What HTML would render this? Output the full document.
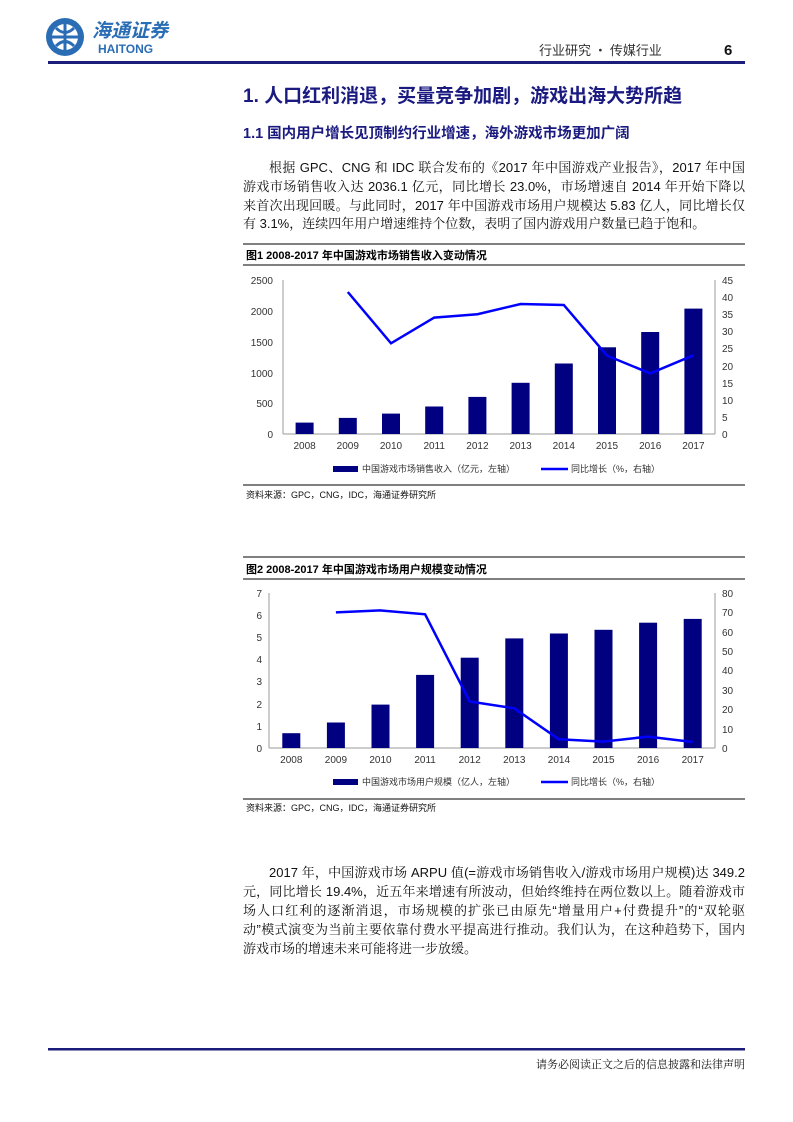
<!DOCTYPE html>
<html><head><meta charset="utf-8"><style>
body{margin:0;background:#fff;}
.pg{position:relative;width:793px;height:1122px;overflow:hidden;font-family:"Liberation Sans","Noto Sans CJK SC",sans-serif;}
.a{position:absolute;white-space:nowrap;}
.ln{position:absolute;left:243px;width:502px;font-size:13px;color:#111;text-align:justify;text-align-last:justify;height:19px;line-height:19px;font-family:"Liberation Sans","Noto Serif CJK SC",serif;}
</style></head><body><div class="pg">
<svg class="a" style="left:0;top:0" width="793" height="1122">
<!-- logo -->
<circle cx="65" cy="37" r="19" fill="#2a6db5"/>
<circle cx="65" cy="37" r="13" fill="#fff"/>
<path d="M65 24 V50 M52 37 H78 M56 28 Q65 37 74 28 M56 46 Q65 37 74 46" stroke="#2a6db5" stroke-width="3" fill="none"/>
<text x="92" y="37" font-size="19" font-weight="bold" fill="#2a6db5" font-family="Noto Sans CJK SC,sans-serif" font-style="italic">海通证券</text>
<text x="98" y="53" font-size="12" font-weight="bold" fill="#2a6db5" font-family="Liberation Sans,sans-serif">HAITONG</text>
<text x="539" y="55" font-size="13" fill="#333" font-family="Noto Sans CJK SC,sans-serif">行业研究 · 传媒行业</text>
<text x="724" y="55" font-size="15" font-weight="bold" fill="#111" font-family="Liberation Sans,sans-serif">6</text>
<rect x="48" y="61" width="697" height="3" fill="#1c1c7a"/>
<rect x="48" y="1048" width="697" height="2.5" fill="#1c1c7a"/>
<text x="745" y="1068" font-size="11" fill="#111" text-anchor="end" font-family="Noto Serif CJK SC,serif">请务必阅读正文之后的信息披露和法律声明</text>

<!-- chart1 frame -->
<g font-family="Liberation Sans,Noto Sans CJK SC,sans-serif">
<line x1="243" y1="244" x2="745" y2="244" stroke="#000" stroke-width="1"/>
<line x1="243" y1="265" x2="745" y2="265" stroke="#000" stroke-width="1"/>
<line x1="243" y1="485" x2="745" y2="485" stroke="#000" stroke-width="1"/>
<text x="246" y="259" font-size="11" font-weight="bold">图1  2008-2017 年中国游戏市场销售收入变动情况</text>
<g stroke="#999" stroke-width="1">
<line x1="283" y1="280" x2="283" y2="434"/><line x1="715" y1="280" x2="715" y2="434"/><line x1="283" y1="434" x2="715" y2="434"/>
</g>
<g fill="#000080">
<rect x="295.6" y="422.6" width="18" height="11.4"/><rect x="338.8" y="417.9" width="18" height="16.1"/>
<rect x="382" y="413.6" width="18" height="20.4"/><rect x="425.2" y="406.5" width="18" height="27.5"/>
<rect x="468.4" y="396.9" width="18" height="37.1"/><rect x="511.6" y="382.8" width="18" height="51.2"/>
<rect x="554.8" y="363.5" width="18" height="70.5"/><rect x="598" y="347.3" width="18" height="86.7"/>
<rect x="641.2" y="332" width="18" height="102"/><rect x="684.4" y="308.6" width="18" height="125.4"/>
</g>
<polyline points="347.8,292 391,343.3 434.2,317.6 477.4,314.2 520.6,304 563.8,305 607,355.6 650.2,373.4 693.4,355.3" fill="none" stroke="#0000ff" stroke-width="2.5"/>
<g font-size="10" fill="#333" text-anchor="end">
<text x="273" y="284">2500</text><text x="273" y="315">2000</text><text x="273" y="346">1500</text><text x="273" y="377">1000</text><text x="273" y="407">500</text><text x="273" y="438">0</text>
</g>
<g font-size="10" fill="#333">
<text x="722" y="284">45</text><text x="722" y="301">40</text><text x="722" y="318">35</text><text x="722" y="335">30</text><text x="722" y="352">25</text><text x="722" y="370">20</text><text x="722" y="387">15</text><text x="722" y="404">10</text><text x="722" y="421">5</text><text x="722" y="438">0</text>
</g>
<g font-size="10" fill="#333" text-anchor="middle">
<text x="304.6" y="449">2008</text><text x="347.8" y="449">2009</text><text x="391" y="449">2010</text><text x="434.2" y="449">2011</text><text x="477.4" y="449">2012</text><text x="520.6" y="449">2013</text><text x="563.8" y="449">2014</text><text x="607" y="449">2015</text><text x="650.2" y="449">2016</text><text x="693.4" y="449">2017</text>
</g>
<rect x="333" y="466" width="25" height="6" fill="#000080"/>
<text x="362" y="472" font-size="9" fill="#333">中国游戏市场销售收入（亿元，左轴）</text>
<line x1="541" y1="469" x2="568" y2="469" stroke="#0000ff" stroke-width="2.5"/>
<text x="571" y="472" font-size="9" fill="#333">同比增长（%，右轴）</text>
<text x="246" y="498" font-size="9" fill="#111">资料来源：GPC，CNG，IDC，海通证券研究所</text>

<!-- chart2 -->
<line x1="243" y1="557" x2="745" y2="557" stroke="#000"/>
<line x1="243" y1="579" x2="745" y2="579" stroke="#000"/>
<line x1="243" y1="799" x2="745" y2="799" stroke="#000"/>
<text x="246" y="573" font-size="11" font-weight="bold">图2  2008-2017 年中国游戏市场用户规模变动情况</text>
<g stroke="#999" stroke-width="1">
<line x1="269" y1="593" x2="269" y2="748"/><line x1="715" y1="593" x2="715" y2="748"/><line x1="269" y1="748" x2="715" y2="748"/>
</g>
<g fill="#000080">
<rect x="282.3" y="733.2" width="18" height="14.8"/><rect x="326.9" y="722.5" width="18" height="25.5"/>
<rect x="371.5" y="704.6" width="18" height="43.4"/><rect x="416.1" y="674.9" width="18" height="73.1"/>
<rect x="460.7" y="657.7" width="18" height="90.3"/><rect x="505.3" y="638.4" width="18" height="109.6"/>
<rect x="549.9" y="633.5" width="18" height="114.5"/><rect x="594.5" y="629.8" width="18" height="118.2"/>
<rect x="639.1" y="622.7" width="18" height="125.3"/><rect x="683.7" y="618.9" width="18" height="129.1"/>
</g>
<polyline points="335.9,612.4 380.5,610.4 425.1,614.3 469.7,701.5 514.3,708.3 558.9,739.3 603.5,741.6 648.1,736.6 692.7,742" fill="none" stroke="#0000ff" stroke-width="2.5"/>
<g font-size="10" fill="#333" text-anchor="end">
<text x="262" y="597">7</text><text x="262" y="619">6</text><text x="262" y="641">5</text><text x="262" y="663">4</text><text x="262" y="685">3</text><text x="262" y="708">2</text><text x="262" y="730">1</text><text x="262" y="752">0</text>
</g>
<g font-size="10" fill="#333">
<text x="722" y="597">80</text><text x="722" y="616">70</text><text x="722" y="636">60</text><text x="722" y="655">50</text><text x="722" y="674">40</text><text x="722" y="694">30</text><text x="722" y="713">20</text><text x="722" y="733">10</text><text x="722" y="752">0</text>
</g>
<g font-size="10" fill="#333" text-anchor="middle">
<text x="291.3" y="763">2008</text><text x="335.9" y="763">2009</text><text x="380.5" y="763">2010</text><text x="425.1" y="763">2011</text><text x="469.7" y="763">2012</text><text x="514.3" y="763">2013</text><text x="558.9" y="763">2014</text><text x="603.5" y="763">2015</text><text x="648.1" y="763">2016</text><text x="692.7" y="763">2017</text>
</g>
<rect x="333" y="779" width="25" height="6" fill="#000080"/>
<text x="362" y="785" font-size="9" fill="#333">中国游戏市场用户规模（亿人，左轴）</text>
<line x1="541" y1="782" x2="568" y2="782" stroke="#0000ff" stroke-width="2.5"/>
<text x="571" y="785" font-size="9" fill="#333">同比增长（%，右轴）</text>
<text x="246" y="811" font-size="9" fill="#111">资料来源：GPC，CNG，IDC，海通证券研究所</text>
</g>
</svg>

<div class="a" style="left:243px;top:81px;font-size:19px;font-weight:bold;color:#1a1a80;">1. 人口红利消退，买量竞争加剧，游戏出海大势所趋</div>
<div class="a" style="left:243px;top:122px;font-size:14.5px;font-weight:bold;color:#1a1a80;">1.1 国内用户增长见顶制约行业增速，海外游戏市场更加广阔</div>

<div class="ln" style="top:158px;padding-left:26px;width:476px">根据 GPC、CNG 和 IDC 联合发布的《2017 年中国游戏产业报告》，2017 年中国</div>
<div class="ln" style="top:177px">游戏市场销售收入达 2036.1 亿元，同比增长 23.0%，市场增速自 2014 年开始下降以</div>
<div class="ln" style="top:196px">来首次出现回暖。与此同时，2017 年中国游戏市场用户规模达 5.83 亿人，同比增长仅</div>
<div class="ln" style="top:214px;text-align-last:left;width:auto">有 3.1%，连续四年用户增速维持个位数，表明了国内游戏用户数量已趋于饱和。</div>

<div class="ln" style="top:863px;padding-left:26px;width:476px">2017 年，中国游戏市场 ARPU 值(=游戏市场销售收入/游戏市场用户规模)达 349.2</div>
<div class="ln" style="top:882px">元，同比增长 19.4%，近五年来增速有所波动，但始终维持在两位数以上。随着游戏市</div>
<div class="ln" style="top:901px">场人口红利的逐渐消退，市场规模的扩张已由原先“增量用户+付费提升”的“双轮驱</div>
<div class="ln" style="top:920px">动”模式演变为当前主要依靠付费水平提高进行推动。我们认为，在这种趋势下，国内</div>
<div class="ln" style="top:939px;text-align-last:left;width:auto">游戏市场的增速未来可能将进一步放缓。</div>
</div></body></html>
